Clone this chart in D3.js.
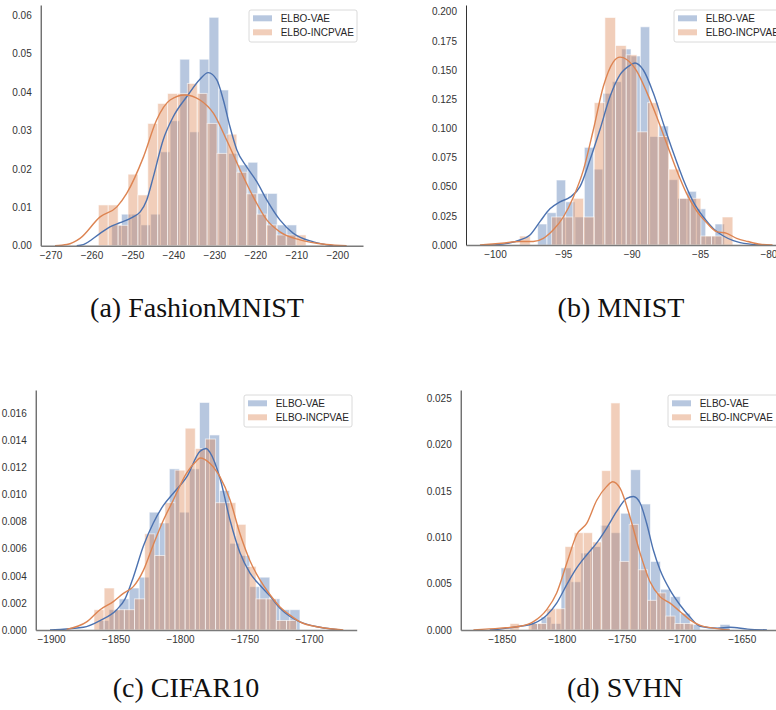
<!DOCTYPE html>
<html>
<head>
<meta charset="utf-8">
<script src="https://cdn.jsdelivr.net/npm/d3@7"></script>
<style>
  body { margin: 0; background: #fff; }
  svg { display: block; }
</style>
</head>
<body>
<svg id="chart" width="776" height="710"></svg>
<script>
// series + captions
const seriesNames = ["ELBO-VAE", "ELBO-INCPVAE"];
const captions = ["(a) FashionMNIST", "(b) MNIST", "(c) CIFAR10", "(d) SVHN"];

// (a) FashionMNIST
const fmnistXTicks = [-270, -260, -250, -240, -230, -220, -210, -200];
const fmnistYTicks = [0, 0.01, 0.02, 0.03, 0.04, 0.05, 0.06];
const fmnistVaeStart = -255.06, fmnistVaeBin = 2.377;
const fmnistVaeHist = [0.0054, 0.0082, 0.0082, 0.0054, 0.0082, 0.0244, 0.0325, 0.0485, 0.0296, 0.0485,
  0.0594, 0.0405, 0.024, 0.021, 0.0217, 0.0136, 0.0136, 0.0054, 0.0054];
const fmnistIncStart = -258.32, fmnistIncBin = 2.415;
const fmnistIncHist = [0.0106, 0.0106, 0.0053, 0.0186, 0.0132, 0.0318, 0.037, 0.0396, 0.0396, 0.0422,
  0.0396, 0.0318, 0.024, 0.029, 0.0191, 0.0135, 0.0082, 0.0054, 0.0028, 0.0028, 0.0028];
const fmnistVaeKde = [[-263.6, 0], [-262.0, 0.0003], [-257.9, 0.0032], [-255.5, 0.0049], [-253.0, 0.006],
  [-249.8, 0.0075], [-248.1, 0.0088], [-246.5, 0.0119], [-244.9, 0.0179], [-242.5, 0.0275],
  [-240.0, 0.0336], [-236.7, 0.0388], [-233.5, 0.0433], [-231.5, 0.045], [-229.4, 0.0431],
  [-227.8, 0.0379], [-226.2, 0.031], [-224.5, 0.0249], [-222.1, 0.0205], [-219.6, 0.0166],
  [-217.2, 0.0119], [-214.0, 0.0067], [-210.7, 0.0032], [-205.8, 0.001], [-200.9, 0]];
const fmnistIncKde = [[-268.9, 0], [-266.0, 0.0003], [-262.8, 0.0019], [-257.9, 0.0075], [-253.8, 0.0101],
  [-251.4, 0.0136], [-247.3, 0.0231], [-244.1, 0.0327], [-240.8, 0.0379], [-237.2, 0.0392],
  [-233.5, 0.0379], [-230.2, 0.0344], [-227.0, 0.0275], [-223.7, 0.0197], [-220.5, 0.0127],
  [-217.2, 0.0067], [-214.0, 0.0036], [-209.1, 0.0015], [-202.6, 0.0003], [-197.7, 0]];

// (b) MNIST
const mnistXTicks = [-100, -95, -90, -85, -80];
const mnistYTicks = [0, 0.025, 0.05, 0.075, 0.1, 0.125, 0.15, 0.175, 0.2];
const mnistVaeStart = -96.88, mnistVaeBin = 0.683;
const mnistVaeHist = [0.018, 0.0277, 0.0557, 0.037, 0.024, 0.0837, 0.065, 0.13, 0.14, 0.168,
  0.162, 0.187, 0.093, 0.102, 0.056, 0.04, 0.046, 0.031, 0.0077, 0.018];
const mnistIncStart = -98.2, mnistIncBin = 0.78;
const mnistIncHist = [0.0077, 0, 0, 0.024, 0.024, 0.04, 0.024, 0.122, 0.195, 0.171,
  0.163, 0.097, 0.122, 0.093, 0.065, 0.04, 0.04, 0.0077, 0.0077, 0.024];
const mnistVaeKde = [[-100.4, 0], [-99.2, 0.0012], [-98.17, 0.0043], [-97.44, 0.0086], [-96.71, 0.02],
  [-95.98, 0.031], [-95.24, 0.037], [-94.51, 0.041], [-93.78, 0.05], [-93.05, 0.073],
  [-92.32, 0.099], [-91.59, 0.127], [-90.85, 0.146], [-90.12, 0.154], [-89.76, 0.156],
  [-89.15, 0.15], [-88.41, 0.13], [-87.68, 0.104], [-86.95, 0.079], [-86.22, 0.056],
  [-85.49, 0.037], [-84.76, 0.024], [-84.02, 0.014], [-83.29, 0.0077], [-82.56, 0.0037],
  [-82.07, 0.002], [-80.6, 0]];
const mnistIncKde = [[-101.1, 0], [-99.5, 0.0015], [-98.17, 0.003], [-97.2, 0.003], [-96.46, 0.0057],
  [-95.73, 0.013], [-95.0, 0.024], [-94.27, 0.041], [-93.54, 0.064], [-92.8, 0.099],
  [-92.07, 0.136], [-91.34, 0.157], [-90.85, 0.161], [-90.37, 0.159], [-89.63, 0.149],
  [-88.9, 0.131], [-88.17, 0.11], [-87.44, 0.087], [-86.71, 0.064], [-85.98, 0.044],
  [-85.24, 0.029], [-84.51, 0.019], [-83.78, 0.0114], [-83.05, 0.01], [-82.32, 0.0057],
  [-81.5, 0.003], [-80.6, 0.0006], [-79.7, 0]];

// (c) CIFAR10
const cifarXTicks = [-1900, -1850, -1800, -1750, -1700];
const cifarYTicks = [0, 0.002, 0.004, 0.006, 0.008, 0.01, 0.012, 0.014, 0.016];
const cifarVaeStart = -1862.8, cifarVaeBin = 7.79;
const cifarVaeHist = [0.0007, 0.0015, 0.0023, 0.0031, 0.0039, 0.0087, 0.0079, 0.0119, 0.0087, 0.0119,
  0.0168, 0.0144, 0.0103, 0.0064, 0.0055, 0.0032, 0.0039, 0.0023, 0.0015, 0.0015];
const cifarIncStart = -1866.7, cifarIncBin = 7.855;
const cifarIncHist = [0.0015, 0.0031, 0.0015, 0.0015, 0.0023, 0.0071, 0.0055, 0.0094, 0.0118, 0.0149,
  0.0134, 0.0141, 0.0094, 0.0094, 0.0078, 0.0047, 0.0023, 0.0023, 0.0007, 0.0007];
const cifarVaeKde = [[-1900.8, 0], [-1874.9, 0.0002], [-1862.0, 0.0007], [-1849.1, 0.0015], [-1842.6, 0.0023],
  [-1836.2, 0.0039], [-1828.4, 0.0062], [-1820.7, 0.0079], [-1812.9, 0.0092], [-1805.2, 0.0101],
  [-1794.8, 0.0113], [-1784.5, 0.0132], [-1779.8, 0.0134], [-1776.7, 0.0131], [-1769.0, 0.0112],
  [-1761.2, 0.0081], [-1753.5, 0.0057], [-1745.7, 0.0042], [-1738.0, 0.0033], [-1730.2, 0.0025],
  [-1722.5, 0.0016], [-1714.7, 0.001], [-1707.0, 0.0006], [-1691.5, 0.0002], [-1676.0, 0]];
const cifarIncKde = [[-1887.9, 0.00005], [-1872.4, 0.0006], [-1862.0, 0.0015], [-1851.7, 0.0021], [-1843.9, 0.0027],
  [-1836.2, 0.0032], [-1828.4, 0.0044], [-1820.7, 0.0063], [-1812.9, 0.0081], [-1805.2, 0.0096],
  [-1794.8, 0.0116], [-1787.1, 0.0125], [-1784.5, 0.0127], [-1776.7, 0.0123], [-1769.0, 0.0113],
  [-1761.2, 0.0096], [-1753.5, 0.0071], [-1745.7, 0.0051], [-1738.0, 0.0037], [-1730.2, 0.0026],
  [-1722.5, 0.0017], [-1714.7, 0.0011], [-1707.0, 0.0006], [-1691.5, 0.0002], [-1673.4, 0]];

// (d) SVHN
const svhnXTicks = [-1850, -1800, -1750, -1700, -1650];
const svhnYTicks = [0, 0.005, 0.01, 0.015, 0.02, 0.025];
const svhnVaeStart = -1825.4, svhnVaeBin = 8.28;
const svhnVaeHist = [0.0007, 0.0014, 0.0007, 0.0067, 0.0052, 0.0083, 0.009, 0.0113, 0.0105, 0.0126,
  0.0173, 0.0136, 0.0074, 0.0044, 0.0036, 0.0018, 0.0006, 0, 0, 0.0006];
const svhnIncStart = -1843.1, svhnIncBin = 7.64;
const svhnIncHist = [0.0007, 0, 0.0007, 0.0007, 0.0023, 0.0023, 0.009, 0.0105, 0.0105, 0.0095,
  0.0172, 0.0245, 0.0074, 0.0114, 0.0065, 0.0032, 0.004, 0.0015, 0.0007, 0.0007];
const svhnVaeKde = [[-1860, 0], [-1851.4, 0.0001], [-1834.7, 0.0004], [-1823.6, 0.0007], [-1812.5, 0.0016],
  [-1804.2, 0.0029], [-1795.8, 0.0049], [-1787.5, 0.0067], [-1779.2, 0.0081], [-1770.8, 0.0094],
  [-1762.5, 0.011], [-1754.2, 0.0128], [-1745.8, 0.0142], [-1740.3, 0.0144], [-1734.7, 0.0137],
  [-1729.2, 0.0115], [-1723.6, 0.0086], [-1718.1, 0.0065], [-1709.7, 0.0043], [-1701.4, 0.0027],
  [-1693.1, 0.0014], [-1684.7, 0.0004], [-1670, 0.0002], [-1660, 0.0003], [-1645, 0.0001], [-1629, 0]];
const svhnIncKde = [[-1873.6, 0], [-1851.4, 0.0002], [-1834.7, 0.0004], [-1823.6, 0.0009], [-1812.5, 0.0022],
  [-1804.2, 0.004], [-1795.8, 0.0072], [-1787.5, 0.0103], [-1779.2, 0.0115], [-1770.8, 0.014],
  [-1762.5, 0.0155], [-1757.5, 0.016], [-1751.4, 0.0153], [-1743.1, 0.0122], [-1734.7, 0.0083],
  [-1726.4, 0.0052], [-1718.1, 0.0036], [-1709.7, 0.0029], [-1701.4, 0.002], [-1693.1, 0.0011],
  [-1684.7, 0.0005], [-1673.6, 0.0002], [-1660, 0]];

const colors = ["#4c72b0", "#dd8452"];
const svg = d3.select("#chart");

function drawPanel(p) {
  let g = svg.append("g");

  let x = d3.scaleLinear().domain([p.x0, p.x1]).range([p.left, p.right]);
  let y = d3.scaleLinear().domain([0, p.yMax]).range([p.bottom, p.top]);

  // histograms, vae first then incp on top
  p.series.forEach(function(s, si) {
    let bars = s.hist.map(function(v, i) {
      return { a: s.start + i * s.bin, b: s.start + (i + 1) * s.bin, v: v };
    }).filter(function(d) { return d.v > 0; });
    g.selectAll(null)
      .data(bars).enter()
      .append("rect")
      .attr("x", function(d) { return x(d.a); })
      .attr("width", function(d) { return x(d.b) - x(d.a); })
      .attr("y", function(d) { return y(d.v); })
      .attr("height", function(d) { return y(0) - y(d.v); })
      .attr("fill", colors[si])
      .attr("fill-opacity", 0.4)
      .attr("stroke", "#fff")
      .attr("stroke-opacity", 0.6)
      .attr("stroke-width", 1);
  });

  // kde lines
  let line = d3.line()
    .x(function(d) { return x(d[0]); })
    .y(function(d) { return y(d[1]); })
    .curve(d3.curveMonotoneX);
  p.series.forEach(function(s, si) {
    g.append("path")
      .datum(s.kde)
      .attr("d", line)
      .attr("fill", "none")
      .attr("stroke", colors[si])
      .attr("stroke-width", 1.4);
  });

  // axes
  let yAxis = d3.axisLeft(y).tickValues(p.yTicks).tickSize(0).tickSizeOuter(0).tickPadding(9)
    .tickFormat(d3.format(p.yFmt));
  let xAxis = d3.axisBottom(x).tickValues(p.xTicks).tickSize(0).tickSizeOuter(0).tickPadding(6)
    .tickFormat(d3.format("d"));

  let ya = g.append("g").attr("transform", "translate(" + p.left + ",0)").call(yAxis);
  ya.select(".domain").attr("stroke", "#333").attr("stroke-width", 1);
  let xa = g.append("g").attr("transform", "translate(0," + p.bottom + ")").call(xAxis);
  xa.select(".domain").attr("stroke", "#7a7a7a").attr("stroke-width", 1.4);
  g.selectAll(".tick text")
    .style("font-family", "'Liberation Sans', Arial, sans-serif")
    .style("font-size", "10px")
    .attr("fill", "#333");

  // legend
  let lg = g.append("g").attr("transform", "translate(" + p.legend.x + "," + p.legend.y + ")");
  lg.append("rect")
    .attr("width", p.legend.w).attr("height", 32)
    .attr("rx", 2)
    .attr("fill", "#fff").attr("fill-opacity", 0.8)
    .attr("stroke", "#d0d0d0").attr("stroke-width", 0.8);
  seriesNames.forEach(function(name, i) {
    lg.append("rect")
      .attr("x", 4).attr("y", 8.3 + i * 14 - 3)
      .attr("width", 19).attr("height", 6)
      .attr("fill", colors[i]).attr("fill-opacity", 0.4);
    lg.append("text")
      .attr("x", 31.7).attr("y", 8.3 + i * 14)
      .attr("dy", "0.35em")
      .text(name)
      .style("font-family", "'Liberation Sans', Arial, sans-serif")
      .style("font-size", "10px")
      .attr("fill", "#262626");
  });

  // caption
  svg.append("text")
    .attr("x", p.caption.x).attr("y", p.caption.y)
    .attr("text-anchor", "middle")
    .text(p.caption.text)
    .style("font-family", "'Liberation Serif', 'Times New Roman', serif")
    .style("font-size", "28px")
    .attr("fill", "#111");
}

drawPanel({
  left: 40.7, right: 363, top: 5, bottom: 245.7,
  x0: -272.4, x1: -193.7, yMax: 0.0626, yFmt: ".2f",
  xTicks: fmnistXTicks, yTicks: fmnistYTicks,
  series: [
    { start: fmnistVaeStart, bin: fmnistVaeBin, hist: fmnistVaeHist, kde: fmnistVaeKde },
    { start: fmnistIncStart, bin: fmnistIncBin, hist: fmnistIncHist, kde: fmnistIncKde }
  ],
  legend: { x: 249, y: 10, w: 108 },
  caption: { x: 197, y: 317, text: captions[0] }
});

drawPanel({
  left: 466, right: 790, top: 5, bottom: 245,
  x0: -102.12, x1: -78.42, yMax: 0.2057, yFmt: ".3f",
  xTicks: mnistXTicks, yTicks: mnistYTicks,
  series: [
    { start: mnistVaeStart, bin: mnistVaeBin, hist: mnistVaeHist, kde: mnistVaeKde },
    { start: mnistIncStart, bin: mnistIncBin, hist: mnistIncHist, kde: mnistIncKde }
  ],
  legend: { x: 674, y: 10, w: 110 },
  caption: { x: 621, y: 317, text: captions[1] }
});

drawPanel({
  left: 35.7, right: 356.7, top: 390, bottom: 630,
  x0: -1911.9, x1: -1663.0, yMax: 0.01772, yFmt: ".3f",
  xTicks: cifarXTicks, yTicks: cifarYTicks,
  series: [
    { start: cifarVaeStart, bin: cifarVaeBin, hist: cifarVaeHist, kde: cifarVaeKde },
    { start: cifarIncStart, bin: cifarIncBin, hist: cifarIncHist, kde: cifarIncKde }
  ],
  legend: { x: 244, y: 395, w: 108 },
  caption: { x: 186, y: 697, text: captions[2] }
});

drawPanel({
  left: 460.7, right: 790, top: 390, bottom: 630,
  x0: -1884.2, x1: -1609.75, yMax: 0.0259, yFmt: ".3f",
  xTicks: svhnXTicks, yTicks: svhnYTicks,
  series: [
    { start: svhnVaeStart, bin: svhnVaeBin, hist: svhnVaeHist, kde: svhnVaeKde },
    { start: svhnIncStart, bin: svhnIncBin, hist: svhnIncHist, kde: svhnIncKde }
  ],
  legend: { x: 668, y: 395, w: 110 },
  caption: { x: 625, y: 697, text: captions[3] }
});
</script>
</body>
</html>
